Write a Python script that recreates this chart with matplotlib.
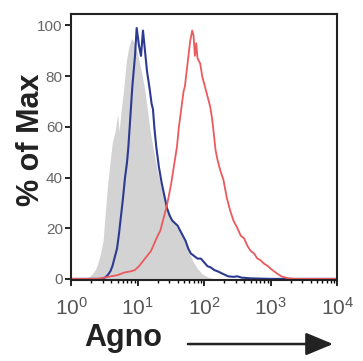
import numpy as np
import matplotlib
matplotlib.use('Agg')
import matplotlib.pyplot as plt

plt.rcParams['font.family'] = ['Liberation Sans', 'DejaVu Sans']

# Data (x given as decades, log10 of intensity)
gray_exp = [0.0, 0.2, 0.26, 0.32, 0.37, 0.40, 0.44, 0.48, 0.51, 0.54, 0.58, 0.62, 0.66,
            0.70, 0.72, 0.75, 0.79, 0.83, 0.87, 0.91, 0.95, 0.99, 1.03, 1.07, 1.11, 1.15,
            1.19, 1.23, 1.30, 1.38, 1.45, 1.52, 1.60, 1.66, 1.72, 1.78, 1.83, 1.90, 1.97,
            2.05, 2.15, 4.0]
gray_val = [0, 0, 0.5, 2, 4, 6, 10, 15, 25, 35, 45, 54, 58,
            65, 58, 66, 75, 86, 92, 95, 93, 90, 85, 80, 74, 66,
            58, 52, 42, 34, 28, 23, 20, 18, 14, 10, 7, 4, 2,
            0.8, 0, 0]

blue_exp = [0.0, 0.45, 0.51, 0.55, 0.59, 0.62, 0.66, 0.69, 0.72, 0.75, 0.78, 0.81, 0.84,
            0.86, 0.88, 0.90, 0.92, 0.94, 0.96, 0.985, 1.02, 1.05, 1.08, 1.11, 1.14, 1.18,
            1.21, 1.23, 1.25, 1.28, 1.32, 1.36, 1.40, 1.44, 1.48, 1.52, 1.56, 1.60, 1.64,
            1.68, 1.72, 1.76, 1.80, 1.85, 1.90, 1.95, 2.00, 2.05, 2.10, 2.15, 2.20, 2.28,
            2.36, 2.44, 2.50, 2.56, 2.70, 3.0, 4.0]
blue_val = [0, 0, 0.5, 1.5, 3, 5, 9, 12, 18, 25, 32, 40, 46,
            52, 60, 68, 76, 82, 88, 99, 92, 88, 98, 90, 82, 75,
            69, 67, 60, 52, 44, 38, 33, 28, 25, 23, 22, 21, 19,
            17, 15, 12, 10, 9, 8, 8, 6.5, 5, 4.5, 3.5, 3, 2,
            1, 0.8, 1, 0.5, 0.2, 0, 0]

red_exp = [0.0, 0.4, 0.5, 0.6, 0.7, 0.8, 0.9, 0.96, 1.02, 1.08, 1.14, 1.20, 1.25, 1.30,
           1.34, 1.38, 1.42, 1.44, 1.47, 1.50, 1.53, 1.56, 1.59, 1.62, 1.66, 1.69, 1.71,
           1.75, 1.79, 1.82, 1.84, 1.86, 1.88, 1.90, 1.94, 1.97, 2.00, 2.04, 2.06, 2.09,
           2.12, 2.15, 2.17, 2.20, 2.24, 2.29, 2.34, 2.39, 2.44, 2.50, 2.55, 2.60, 2.65,
           2.70, 2.75, 2.80, 2.84, 2.90, 2.96, 3.00, 3.05, 3.10, 3.16, 3.25, 3.35, 4.0]
red_val = [0, 0, 0.5, 1, 1.5, 2.5, 3, 3.5, 5, 7, 9, 11, 14, 17,
           19, 23, 27, 29, 33, 37, 42, 47, 52, 60, 68, 74, 76,
           85, 94, 98, 96, 88, 93, 87, 85, 80, 77, 73, 71, 68,
           63, 56, 51, 47, 43, 39, 32, 27, 23, 20, 17, 16, 13,
           11, 10, 8, 7.5, 6, 5, 4, 3, 2, 1, 0.3, 0, 0]

y_ticks = [0, 20, 40, 60, 80, 100]
x_ticks = [1, 10, 100, 1000, 10000]
x_ticklabels = ['$\\mathregular{10^0}$', '$\\mathregular{10^1}$', '$\\mathregular{10^2}$',
                '$\\mathregular{10^3}$', '$\\mathregular{10^4}$']

fig = plt.figure(figsize=(3.63, 3.61), dpi=100)
ax = fig.add_axes([0.196, 0.224, 0.733, 0.737])

ax.fill_between(10 ** np.array(gray_exp), gray_val, color='#d3d3d3', linewidth=0)
ax.plot(10 ** np.array(blue_exp), blue_val, color='#2c3a92', linewidth=1.5)
ax.plot(10 ** np.array(red_exp), red_val, color='#ea5a5e', linewidth=1.3)

ax.set_xscale('log')
ax.set_xlim(1, 1e4)
ax.set_ylim(-0.5, 104.5)
ax.set_xticks(x_ticks)
ax.set_xticklabels(x_ticklabels, fontsize=15, color='#555555')
ax.set_yticks(y_ticks)
ax.set_yticklabels([str(t) for t in y_ticks], fontsize=11, color='#666666')
ax.tick_params(axis='both', direction='out', length=4, width=1.2)
ax.tick_params(axis='x', which='minor', direction='out', length=2.5, width=1)
ax.tick_params(axis='x', pad=8)
ax.tick_params(axis='y', pad=2)

for s in ax.spines.values():
    s.set_linewidth(1.5)
    s.set_color('#222222')

# y label
fig.text(0.085, 0.612, '% of Max', fontsize=22, fontweight='bold', color='#222222',
         rotation=90, va='center', ha='center')

# x label with arrow
fig.text(0.232, 0.064, 'Agno', fontsize=22, fontweight='bold', color='#222222',
         va='center', ha='left')
fig.add_artist(matplotlib.patches.FancyArrowPatch(
    (0.51, 0.047), (0.925, 0.047), transform=fig.transFigure,
    arrowstyle='-|>,head_length=1.2,head_width=0.5', mutation_scale=14,
    color='#222222', linewidth=1.8))

fig.savefig('out.png', dpi=100)
